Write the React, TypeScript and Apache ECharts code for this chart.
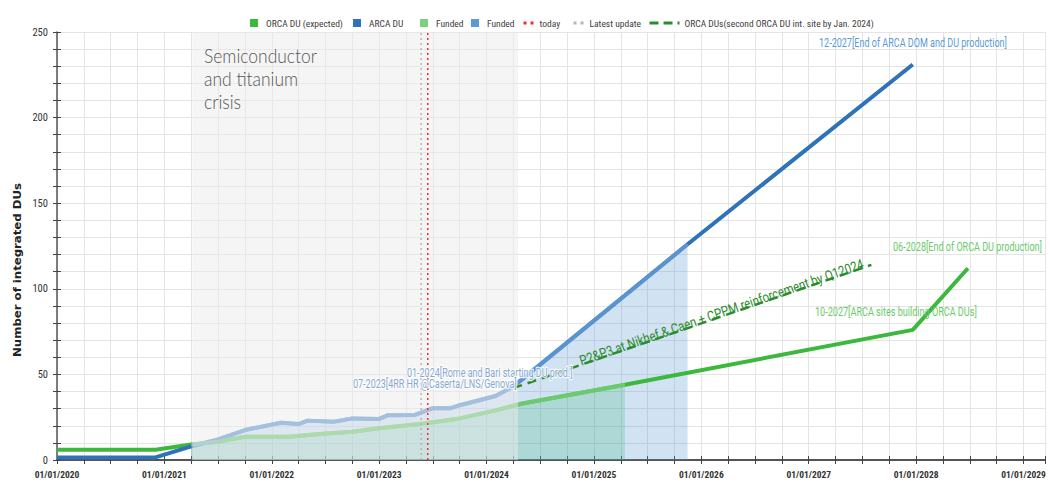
import React, { useEffect, useRef } from "react";
import * as echarts from "echarts";

// ---------- data ----------
const orcaLine: [string, number][] = [
  ["2020-01", 6], ["2020-12", 6], ["2021-04", 9], ["2021-07", 10.7], ["2021-10", 13.6],
  ["2022-03", 13.6], ["2022-06", 15], ["2022-10", 16.5], ["2023-01", 18.5], ["2023-06", 21.3],
  ["2023-10", 24.3], ["2024-02", 29], ["2024-05", 33], ["2025-04-15", 44], ["2027-12-20", 76], ["2028-06-25", 112],
];
const arcaLine: [string, number][] = [
  ["2020-01", 1.5], ["2020-12", 1.5], ["2021-04", 8], ["2021-07", 12], ["2021-10", 17.5],
  ["2022-02", 21.8], ["2022-04", 21], ["2022-05", 23], ["2022-08", 22.4], ["2022-10", 24.3],
  ["2023-01", 24], ["2023-02", 26.2], ["2023-05", 26.3], ["2023-07", 30.3], ["2023-09", 30.3],
  ["2023-10", 32], ["2024-02", 37.4], ["2024-04", 43], ["2025-11-15", 126], ["2027-12-20", 231],
];
const fundedOrcaRange: [string, string] = ["2021-04", "2025-04-15"];
const fundedArcaRange: [string, string] = ["2021-04", "2025-11-15"];
const crisisRange: [string, string] = ["2021-04-05", "2024-04-17"];
const todayDate = "2023-06-14";
const latestUpdateDate = "2023-05-22";
const orcaSecondSite: [string, number][] = [["2024-04", 42], ["2027-08", 114]];

const legendNames = [
  "ORCA DU (expected)", "ARCA DU", "Funded", "Funded ", "today", "Latest update",
  "ORCA DUs(second ORCA DU int. site by Jan. 2024)",
];
const yAxisName = "Number of integrated DUs";
const crisisLabel = ["Semiconductor", "and titanium", "crisis"];
const notes = [
  "12-2027[End of ARCA DOM and DU production]",
  "06-2028[End of ORCA DU production]",
  "10-2027[ARCA sites building ORCA DUs]",
  "01-2024[Rome and Bari starting DU prod.]",
  "07-2023[4RR HR @Caserta/LNS/Genova]",
];
const secondSiteNote = "P2&P3 at Nikhef & Caen + CPPM reinforcement by Q12024";

// ---------- helpers ----------
function toYear(d: string): number {
  const [y, m, day] = d.split("-").map(Number);
  return y + ((m || 1) - 1) / 12 + ((day || 1) - 1) / 365;
}
const xy = (arr: [string, number][]) => arr.map(([d, v]) => [toYear(d), v]);
const within = (arr: [string, number][], r: [string, string]) =>
  arr.filter(([d]) => toYear(d) >= toYear(r[0]) - 1e-9 && toYear(d) <= toYear(r[1]) + 1e-9);

let ctx: CanvasRenderingContext2D | null = null;
function measure(text: string, font: string): number {
  if (!ctx) ctx = document.createElement("canvas").getContext("2d");
  ctx!.font = font;
  return ctx!.measureText(text).width;
}

const NARROW = "'Liberation Sans Narrow', 'Arial Narrow', 'Roboto Condensed', Roboto, sans-serif";

export default function App() {
  const ref = useRef<HTMLDivElement>(null);

  useEffect(() => {
    document.body.style.margin = "0";
    const chart = echarts.init(ref.current!, undefined, { renderer: "svg" });

    const axisCommonX = { type: "value", min: 2020, max: 2029.2, interval: 0.25 };
    const axisCommonY = { type: "value", min: 0, max: 250, interval: 50 };

    const legendText = { fontFamily: NARROW, fontSize: 9.5, color: "#404040" };
    const legendLefts = [245, 348, 415, 466, 517, 567, 643];
    const legend = legendNames.map((name, i) => {
      const base: any = {
        data: [name], left: legendLefts[i], top: 13, selectedMode: false,
        textStyle: { ...legendText, padding: i < 4 ? [0, 0, 0, 3] : 0 },
      };
      if (i < 4) return { ...base, icon: "rect", itemWidth: 8, itemHeight: 8 };
      if (i < 6)
        return {
          ...base, itemWidth: 11, itemHeight: 8,
          itemStyle: { color: "transparent", borderWidth: 0 },
          lineStyle: { width: 3, type: [3, 4] },
        };
      return {
        ...base, itemWidth: 30, itemHeight: 8,
        itemStyle: { color: "transparent", borderWidth: 0 },
        lineStyle: { width: 3, type: [9, 5] },
      };
    });

    const option: any = {
      animation: false,
      backgroundColor: "#ffffff",
      grid: { left: 57, right: 5, top: 32, bottom: 22 },
      legend,
      xAxis: [
        {
          ...axisCommonX,
          axisLine: { show: true, onZero: false, lineStyle: { color: "#555", width: 2 } },
          axisTick: { show: true, length: 4, lineStyle: { color: "#444" } },
          splitLine: { show: true, lineStyle: { color: "#e4e4e4", width: 1 } },
          axisLabel: {
            formatter: (v: number) => (Math.abs(v - Math.round(v)) < 1e-6 ? `01/01/${Math.round(v)}` : ""),
            fontFamily: NARROW, fontSize: 9.5, fontWeight: "bold", color: "#333", margin: 9,
          },
        },
        {
          ...axisCommonX, position: "bottom",
          axisLine: { show: false },
          axisTick: { show: true, inside: true, length: 4, lineStyle: { color: "#444" } },
          axisLabel: { show: false }, splitLine: { show: false },
        },
      ],
      yAxis: [
        {
          ...axisCommonY,
          axisLine: { show: true, onZero: false, lineStyle: { color: "#555", width: 1.5 } },
          axisTick: { show: true, length: 4, lineStyle: { color: "#444" } },
          minorTick: { show: true, splitNumber: 5, length: 4, lineStyle: { color: "#444" } },
          splitLine: { show: true, lineStyle: { color: "#e4e4e4", width: 1 } },
          minorSplitLine: { show: true, lineStyle: { color: "#e4e4e4", width: 1 } },
          axisLabel: { fontFamily: NARROW, fontSize: 10.5, color: "#333", margin: 9 },
        },
        {
          ...axisCommonY, position: "left",
          axisLine: { show: false },
          axisTick: { show: true, inside: true, length: 4, lineStyle: { color: "#444" } },
          minorTick: { show: true, splitNumber: 5, length: 4, lineStyle: { color: "#444" } },
          axisLabel: { show: false }, splitLine: { show: false },
        },
      ],
      series: [
        {
          name: "ORCA DU (expected)", type: "line", data: xy(orcaLine), color: "#3cb83c",
          symbol: "none", lineStyle: { width: 4 }, z: 2,
        },
        {
          name: "ARCA DU", type: "line", data: xy(arcaLine), color: "#2e72b8",
          symbol: "none", lineStyle: { width: 4 }, z: 2,
        },
        {
          name: "Funded ", type: "line", data: xy(within(arcaLine, fundedArcaRange)), color: "#5b9bd5",
          symbol: "none", lineStyle: { width: 4, color: "rgba(120,172,224,0.6)" },
          areaStyle: { color: "rgba(91,155,213,0.4)" }, z: 2,
        },
        {
          name: "Funded", type: "line", data: xy(within(orcaLine, fundedOrcaRange)), color: "#7dd07d",
          symbol: "none", lineStyle: { width: 4, color: "rgba(150,215,150,0.55)" },
          areaStyle: { color: "rgba(60,180,120,0.35)" }, z: 2,
        },
        {
          name: "crisis", type: "line", data: [], z: 3,
          markArea: {
            silent: true, z: 3,
            itemStyle: { color: "rgba(236,236,236,0.5)" },
            data: [[{ xAxis: toYear(crisisRange[0]) }, { xAxis: toYear(crisisRange[1]) }]],
          },
        },
        {
          name: "Latest update", type: "line", color: "#b5b5b5", symbol: "none", z: 5,
          data: [[toYear(latestUpdateDate), 0], [toYear(latestUpdateDate), 250]],
          lineStyle: { width: 1.5, type: [2, 3] },
        },
        {
          name: "today", type: "line", color: "#ff2a2a", symbol: "none", z: 5,
          data: [[toYear(todayDate), 0], [toYear(todayDate), 250]],
          lineStyle: { width: 1.5, type: [2, 3] },
        },
        {
          name: legendNames[6], type: "line", color: "#2b8c2b", symbol: "none", z: 5,
          data: xy(orcaSecondSite), lineStyle: { width: 2.5, type: [9, 6] },
        },
      ],
    };

    chart.setOption(option);

    const toPx = (d: string, v: number) =>
      chart.convertToPixel({ xAxisIndex: 0, yAxisIndex: 0 }, [toYear(d), v]) as number[];

    const txt = (text: string, x: number, y: number, font: string, fill: string, targetW: number | null, extra: any = {}) => {
      const lines = text.split("\n");
      const widest = Math.max(...lines.map((l) => measure(l, font)));
      const { align, valign, lineHeight, halo, ...rest } = extra;
      return {
        type: "text", x, y, z: 10, silent: true,
        scaleX: targetW ? targetW / widest : 1,
        ...rest,
        style: {
          text, font, fill,
          align: align || "left", textAlign: align || "left",
          verticalAlign: valign || "middle", textVerticalAlign: valign || "middle",
          lineHeight,
          ...(halo ? { stroke: "rgba(255,255,255,0.85)", lineWidth: 2.5, strokeFirst: true } : {}),
        },
      };
    };

    const noteFont = "13px Roboto";
    const blueNote = "#5b9bd5";
    const greenNote = "#6acb6a";
    const greyBlue = "#86a9d0";

    const p0 = toPx(orcaSecondSite[0][0], orcaSecondSite[0][1]);
    const p1 = toPx(orcaSecondSite[1][0], orcaSecondSite[1][1]);
    const dx = p1[0] - p0[0], dy = p1[1] - p0[1];
    const len = Math.hypot(dx, dy);
    const t = 0.585;
    const nx = dy / len, ny = -dx / len;
    const cx = p0[0] + dx * t + nx * 4;
    const cy = p0[1] + dy * t + ny * 4;
    const rot = Math.atan2(-dy, dx);
    const siteFont = "14px Roboto";

    const graphic = [
      { ...txt(yAxisName, 17, 270, "bold 11px 'DejaVu Sans'", "#222", 174, { align: "center" }), rotation: Math.PI / 2 },
      txt(crisisLabel.join("\n"), 204, 44, "300 19px Lato", "#555", 113, { valign: "top", lineHeight: 23 }),
      txt(notes[0], 819, 43, noteFont, blueNote, 188),
      txt(notes[1], 893, 247, noteFont, greenNote, 149),
      txt(notes[2], 815, 312, noteFont, greenNote, 162),
      txt(notes[3], 407, 373, noteFont, greyBlue, 166, { halo: true }),
      txt(notes[4], 353, 384, noteFont, greyBlue, 164, { halo: true }),
      {
        ...txt(secondSiteNote, cx, cy, siteFont, "#2b8c2b", 300, { align: "center" }),
        rotation: rot,
      },
    ];
    chart.setOption({ graphic });

    return () => chart.dispose();
  }, []);

  return <div ref={ref} style={{ width: 1050, height: 482 }} />;
}
